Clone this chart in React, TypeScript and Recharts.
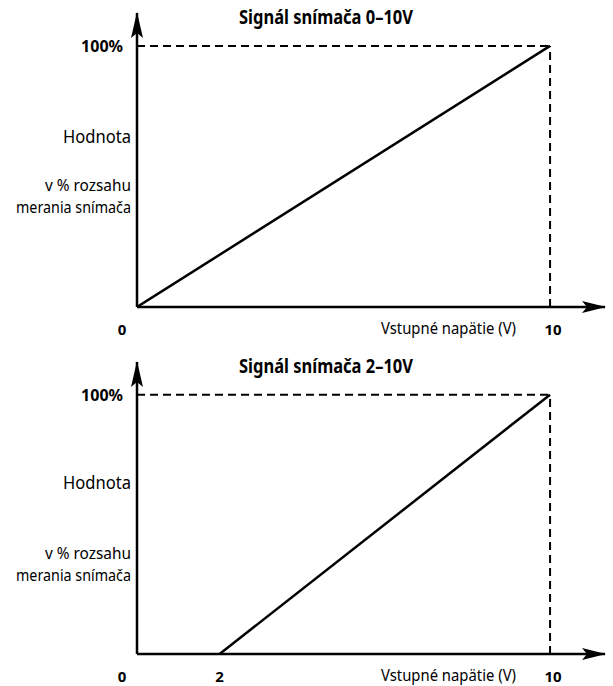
import { LineChart, Line, XAxis, YAxis, ReferenceLine, ReferenceDot } from 'recharts';

// chart content
const titleTop = 'Signál snímača 0–10V';
const titleBottom = 'Signál snímača 2–10V';
const xLabel = 'Vstupné napätie (V)';
const yLabelLines = ['Hodnota', 'v % rozsahu', 'merania snímača'];
const xTicksTop = [0, 10];
const xTicksBottom = [0, 2, 10];
const yTicks = [100];
const lineTop = [{ v: 0, p: 0 }, { v: 10, p: 100 }];
const lineBottom = [{ v: 2, p: 0 }, { v: 10, p: 100 }];
const fullScale = { v: 10, p: 100 };
// axis extents (arrow tips)
const X_MAX = 11.33;
const Y_MAX = 112.6;

const FONT = "'Noto Sans', sans-serif";
// the original uses a condensed face, so squeeze the text to its measured widths
const yLabelWidths = [68, 86, 115];
const xLabelWidth = 135;
const titleWidth = 174;

const UpArrow = ({ cx, cy }: any) => (
  <path d={`M${cx},${cy - 1} L${cx + 6},${cy + 25} L${cx},${cy + 20} L${cx - 6},${cy + 25} Z`} fill="#000" />
);

const RightArrow = ({ cx, cy }: any) => (
  <path d={`M${cx + 1},${cy} L${cx - 23},${cy - 6} L${cx - 18},${cy} L${cx - 23},${cy + 6} Z`} fill="#000" />
);

const XTick = ({ x, y, payload }: any) => {
  const dx = payload.value === 0 ? -15 : payload.value === 10 ? 3 : 0;
  return (
    <text x={x + dx} y={y + 28} textAnchor="middle" fontFamily={FONT} fontWeight="bold" fontSize={15} fill="#000">
      {payload.value}
    </text>
  );
};

const YTick = ({ x, y, payload }: any) => (
  <text x={x - 14} y={y + 6} textAnchor="end" fontFamily={FONT} fontWeight="bold" fontSize={16} fill="#000">
    {payload.value}%
  </text>
);

function Diagram({ title, data, xTicks, height, top, labelOffsets }: any) {
  const XText = ({ viewBox }: any) => (
    <text
      x={viewBox.x + viewBox.width - 89}
      y={viewBox.y + 27}
      textAnchor="end"
      fontFamily={FONT}
      fontSize={17}
      fill="#000"
      textLength={xLabelWidth}
      lengthAdjust="spacingAndGlyphs"
    >
      {xLabel}
    </text>
  );
  const YText = ({ viewBox }: any) => (
    <g>
      <text
        x={326}
        y={viewBox.y + 11}
        textAnchor="middle"
        fontFamily={FONT}
        fontWeight="bold"
        fontSize={19}
        fill="#000"
        textLength={titleWidth}
        lengthAdjust="spacingAndGlyphs"
      >
        {title}
      </text>
      {yLabelLines.map((t, i) => (
        <text
          key={t}
          x={viewBox.x + viewBox.width - 6}
          y={viewBox.y + labelOffsets[i]}
          textAnchor="end"
          fontFamily={FONT}
          fontSize={i === 0 ? 18 : 17}
          fill="#000"
          textLength={yLabelWidths[i]}
          lengthAdjust="spacingAndGlyphs"
        >
          {t}
        </text>
      ))}
    </g>
  );
  return (
    <LineChart width={613} height={height} margin={{ top, right: 8, bottom: 0, left: 0 }}>
      <XAxis
        type="number"
        dataKey="v"
        domain={[0, X_MAX]}
        ticks={xTicks}
        interval={0}
        allowDataOverflow
        height={height - top - (height === 343 ? 294 : 292)}
        tickLine={false}
        tickSize={0}
        tickMargin={0}
        axisLine={{ stroke: '#000', strokeWidth: 2.5 }}
        tick={<XTick />}
        label={{ content: XText }}
      />
      <YAxis
        type="number"
        dataKey="p"
        domain={[0, Y_MAX]}
        ticks={yTicks}
        allowDataOverflow
        width={137}
        tickLine={false}
        tickSize={0}
        tickMargin={0}
        axisLine={{ stroke: '#000', strokeWidth: 2.5 }}
        tick={<YTick />}
        label={{ content: YText }}
      />
      <ReferenceLine
        segment={[{ x: 0, y: fullScale.p }, { x: fullScale.v, y: fullScale.p }]}
        stroke="#000"
        strokeWidth={2}
        strokeDasharray="8 5"
      />
      <ReferenceLine
        segment={[{ x: fullScale.v, y: 0 }, { x: fullScale.v, y: fullScale.p }]}
        stroke="#000"
        strokeWidth={2}
        strokeDasharray="8 5"
      />
      <Line data={data} dataKey="p" stroke="#000" strokeWidth={2.5} dot={false} isAnimationActive={false} />
      <ReferenceDot x={0} y={Y_MAX} r={0} shape={UpArrow} ifOverflow="visible" />
      <ReferenceDot x={X_MAX} y={0} r={0} shape={RightArrow} ifOverflow="visible" />
    </LineChart>
  );
}

export default function App() {
  return (
    <div style={{ position: 'absolute', left: 0, top: 0, width: 613, height: 686, background: '#fff' }}>
      <div style={{ position: 'absolute', left: 0, top: 0 }}>
        <Diagram title={titleTop} data={lineTop} xTicks={xTicksTop} height={343} top={13} labelOffsets={[130, 178, 200]} />
      </div>
      <div style={{ position: 'absolute', left: 0, top: 348 }}>
        <Diagram title={titleBottom} data={lineBottom} xTicks={xTicksBottom} height={338} top={14} labelOffsets={[127, 197, 219]} />
      </div>
    </div>
  );
}
